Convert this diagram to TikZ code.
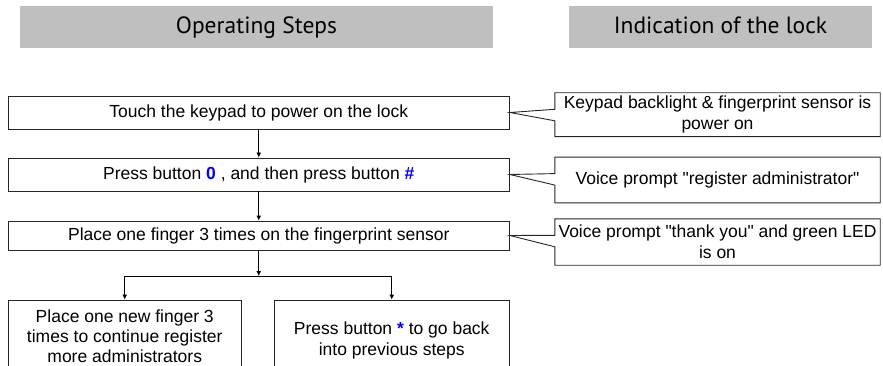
\documentclass[tikz,border=0pt]{standalone}
\usepackage{fontspec}
\setmainfont{Liberation Sans}[Ligatures=TeXOff]
\newfontfamily\headfont{PT Sans}
\usetikzlibrary{arrows.meta}
\definecolor{headgray}{RGB}{191,191,191}
\definecolor{keyblue}{RGB}{0,0,255}
\newcommand{\keyb}[1]{\textcolor{keyblue}{\textbf{#1}}}
\tikzset{
  headbox/.style={fill=headgray, minimum height=42pt, inner sep=0pt, text height=17pt, text depth=3pt, font=\headfont\fontsize{23.5}{27}\selectfont},
  stepbox/.style={draw=black!85, line width=0.9pt, inner sep=0pt, align=center, font=\fontsize{17.5}{21}\selectfont},
  hintbox/.style={inner sep=0pt, align=center, minimum width=325pt, font=\fontsize{17.5}{21}\selectfont},
}
\begin{document}
\begin{tikzpicture}[x=1pt, y=-1pt, >={Latex[length=5pt,width=5pt]}]
	\useasboundingbox (0,0) rectangle (883,366);
	\clip (0,0) rectangle (883,366);

	\node[headbox, minimum width=473pt] (opsteps) at (256.5,27) {Operating Steps};
	\node[headbox, minimum width=303pt] (lockind) at (720.5,27) {Indication of the lock};

	\node[stepbox, minimum width=501.5pt, minimum height=33pt] (touch) at (258.75,112.5) {Touch the keypad to power on the lock};
	\node[stepbox, minimum width=501.5pt, minimum height=33pt] (press) at (258.75,174.5) {Press button \keyb{0} , and then press button \keyb{\#}};
	\node[stepbox, minimum width=501.5pt, minimum height=29pt] (place) at (258.75,235.5) {Place one finger 3 times on the fingerprint sensor};
	\node[stepbox, minimum width=233.5pt, minimum height=72pt, font=\fontsize{17.5}{20}\selectfont] (newfinger) at (124.75,336) {Place one new finger 3\\times to continue register\\more administrators};
	\node[stepbox, minimum width=235.5pt, minimum height=80pt] (goback) at (391.75,340) {Press button \keyb{*} to go back\\into previous steps};

	\node[hintbox, minimum height=43.5pt] (backlight) at (717.5,114.75) {Keypad backlight \& fingerprint sensor is\\power on};
	\node[hintbox, minimum height=45.4pt] (voice) at (717.5,180) {Voice prompt "register administrator"};
	\node[hintbox, minimum height=46pt] (thanks) at (717.5,242) {Voice prompt "thank you" and green LED\\is on};

	% callouts pointing back to the steps
	\foreach \b/\c in {touch/backlight, press/voice, place/thanks}
		\draw[black!85, line width=0.9pt] (\c.north west) -- (\c.north east) -- (\c.south east) -- (\c.south west)
		-- ([yshift=-28pt]\c.north west) -- (\b.east) -- ([yshift=-16.5pt]\c.north west) -- cycle;

	\coordinate (split) at (258.75,276);
	\draw[->, line width=0.9pt] (touch) -- (press);
	\draw[->, line width=0.9pt] (press) -- (place);
	\draw[->, line width=0.9pt] (place) -- (split);
	\draw[->, line width=0.9pt] (split) -| (newfinger);
	\draw[->, line width=0.9pt] (split) -| (goback);
\end{tikzpicture}
\end{document}
